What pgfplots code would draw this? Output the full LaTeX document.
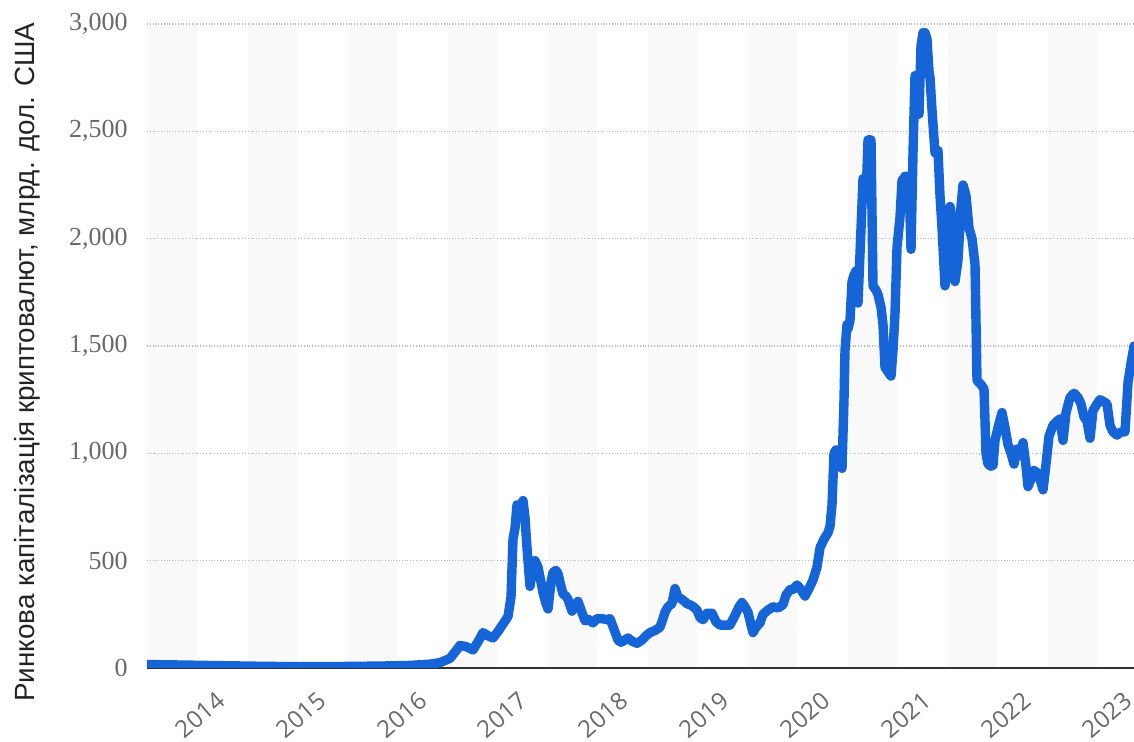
\documentclass[border=0pt]{standalone}
\usepackage{pgfplots}
\pgfplotsset{compat=1.18}
\usepackage{fontspec}
\setmainfont{Liberation Sans}
\newfontfamily\tickserif{Liberation Serif}
\newfontfamily\ticksans{Open Sans}
\definecolor{lineblue}{RGB}{21,101,216}
\definecolor{bandgray}{RGB}{249,249,249}
\definecolor{gridgray}{RGB}{185,185,185}
\definecolor{axisdark}{RGB}{50,50,50}
\definecolor{tickgray}{RGB}{105,105,105}
\definecolor{labeldark}{RGB}{35,35,35}
\pgfplotstableread{
x v
147 16
180 14
220 11
260 8
300 6
340 7
380 9
410 12
430 18
440 25
450 45
456 80
460 105
466 100
473 84
479 130
483 165
488 150
493 140
498 170
503 205
508 240
511 330
513 600
515 650
517 760
520 740
523 780
525 700
527 560
530 380
533 480
535 500
538 470
541 400
543 350
546 300
548 275
551 400
553 445
556 455
558 440
561 380
563 345
566 335
568 320
572 265
575 290
578 310
581 270
585 220
589 225
593 210
597 230
602 230
607 225
610 230
614 180
618 130
621 120
625 130
628 140
632 125
637 115
642 130
646 150
650 165
655 175
660 190
663 230
665 260
668 285
672 300
675 370
678 330
682 320
687 300
692 290
697 270
700 235
703 225
707 255
712 255
716 215
720 200
725 200
730 200
735 245
739 285
742 305
745 285
748 260
751 200
753 165
756 190
760 210
763 250
768 270
773 285
778 280
783 295
786 340
790 365
793 365
797 387
801 365
805 335
809 370
813 410
817 470
820 560
824 600
828 630
830 660
832 760
834 1000
836 1016
839 960
842 930
844 1250
845 1480
847 1600
848 1580
850 1620
852 1800
854 1830
856 1850
858 1700
860 1930
863 2280
866 2180
868 2460
871 2460
873 1780
876 1760
878 1740
881 1680
883 1600
885 1400
888 1380
891 1360
893 1480
895 1650
897 1960
900 2100
902 2270
905 2290
907 2290
909 2270
911 1950
913 2400
915 2760
917 2620
919 2580
921 2900
923 2960
925 2960
927 2930
929 2780
930 2750
932 2600
935 2400
938 2410
940 2200
942 2050
945 1780
948 1900
950 2150
952 2100
955 1800
958 1900
961 2150
963 2250
966 2200
969 2050
972 2000
975 1880
977 1340
981 1320
984 1300
986 1000
988 950
991 940
993 945
995 1060
998 1120
1002 1190
1005 1120
1008 1040
1011 1000
1014 950
1017 1020
1020 990
1023 1050
1026 940
1028 845
1031 880
1034 920
1037 910
1040 880
1043 830
1046 950
1049 1080
1053 1130
1057 1150
1060 1160
1063 1060
1066 1190
1070 1260
1074 1280
1078 1260
1081 1230
1084 1170
1087 1150
1090 1070
1093 1200
1097 1230
1100 1250
1104 1240
1107 1230
1110 1130
1113 1100
1117 1085
1121 1100
1125 1100
1128 1330
1131 1420
1134 1500
}\capdata
\begin{document}
\begin{tikzpicture}
\begin{axis}[
  set layers=standard,
  scale only axis,
  width=493.5pt, height=322pt,
  xmin=147, xmax=1134,
  ymin=0, ymax=3000,
  axis x line*=bottom, axis y line*=left,
  x axis line style={-, draw=axisdark, line width=1.1pt},
  y axis line style={draw=none},
  major tick length=0pt,
  xtick={223,324,425,525,626,727,828,929,1029,1130},
  xticklabels={2014,2015,2016,2017,2018,2019,2020,2021,2022,2023},
  xticklabel style={yshift=-11pt, xshift=-4pt, rotate=41, anchor=north east, inner sep=0pt, font=\ticksans\fontsize{12}{12}\selectfont, text=tickgray},
  ytick={0,500,1000,1500,2000,2500,3000},
  scaled y ticks=false,
  /pgf/number format/assume math mode=true,
  /pgf/number format/1000 sep={,},
  yticklabel style={xshift=-9.5pt, anchor=east, inner sep=0pt, font=\tickserif\fontsize{13}{13}\selectfont, text=tickgray},
  ymajorgrids,
  major grid style={densely dotted, draw=gridgray, line width=0.7pt},
  ylabel={Ринкова капіталізація криптовалют, млрд. дол. США},
  ylabel style={at={(axis description cs:-0.121,0.475)}, anchor=center, rotate=0, font=\fontsize{13.9}{15}\selectfont, text=labeldark},
]
\begin{pgfonlayer}{axis background}
\fill[bandgray] (axis cs:148,0) rectangle (axis cs:197,3000);
\fill[bandgray] (axis cs:248,0) rectangle (axis cs:297,3000);
\fill[bandgray] (axis cs:348,0) rectangle (axis cs:397,3000);
\fill[bandgray] (axis cs:448,0) rectangle (axis cs:497,3000);
\fill[bandgray] (axis cs:548,0) rectangle (axis cs:597,3000);
\fill[bandgray] (axis cs:648,0) rectangle (axis cs:697,3000);
\fill[bandgray] (axis cs:748,0) rectangle (axis cs:797,3000);
\fill[bandgray] (axis cs:848,0) rectangle (axis cs:897,3000);
\fill[bandgray] (axis cs:948,0) rectangle (axis cs:997,3000);
\fill[bandgray] (axis cs:1048,0) rectangle (axis cs:1097,3000);
\end{pgfonlayer}
\addplot[draw=lineblue, line width=4.7pt, line join=round, line cap=round] table[x=x, y=v] {\capdata};
\end{axis}
\pgfresetboundingbox
\path[use as bounding box] (-73.5pt,-37pt) rectangle (493.5pt,334pt);
\end{tikzpicture}
\end{document}
